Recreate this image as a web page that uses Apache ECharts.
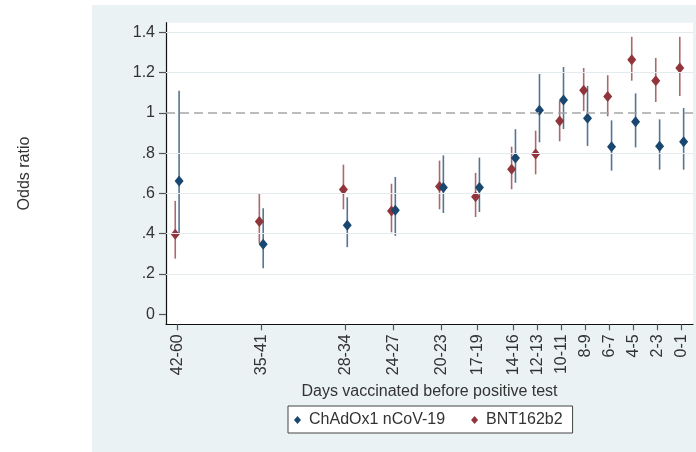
<!DOCTYPE html>
<html>
<head>
<meta charset="utf-8">
<script src="https://cdn.jsdelivr.net/npm/echarts/dist/echarts.min.js"></script>
<style>
html,body{margin:0;padding:0;background:#fff;}
#chart{width:696px;height:452px;}
</style>
</head>
<body>
<div id="chart"></div>
<script>
// ---- data ----
var categories = ['42-60','35-41','28-34','24-27','20-23','17-19','14-16','12-13','10-11','8-9','6-7','4-5','2-3','0-1'];
var dayStart   = [42, 35, 28, 24, 20, 17, 14, 12, 10, 8, 6, 4, 2, 0];

var chadOR = [0.662, 0.348, 0.442, 0.516, 0.630, 0.630, 0.776, 1.013, 1.064, 0.973, 0.832, 0.956, 0.834, 0.857];
var chadLo = [0.404, 0.228, 0.333, 0.389, 0.503, 0.508, 0.653, 0.854, 0.920, 0.836, 0.713, 0.829, 0.718, 0.718];
var chadHi = [1.110, 0.526, 0.581, 0.682, 0.789, 0.778, 0.919, 1.193, 1.228, 1.134, 0.963, 1.097, 0.968, 1.024];

var bntOR = [0.397, 0.460, 0.620, 0.513, 0.634, 0.584, 0.720, 0.796, 0.960, 1.112, 1.082, 1.264, 1.160, 1.223];
var bntLo = [0.276, 0.352, 0.521, 0.407, 0.521, 0.483, 0.621, 0.695, 0.859, 1.009, 0.983, 1.160, 1.054, 1.084];
var bntHi = [0.563, 0.597, 0.743, 0.648, 0.763, 0.702, 0.832, 0.912, 1.059, 1.223, 1.187, 1.378, 1.273, 1.378];

var yTicks      = [0, 0.2, 0.4, 0.6, 0.8, 1, 1.2, 1.4];
var yTickLabels = ['0', '.2', '.4', '.6', '.8', '1', '1.2', '1.4'];
var refLine = 1;

var seriesNames = ['ChAdOx1 nCoV-19', 'BNT162b2'];
var xTitle = 'Days vaccinated before positive test';
var yTitle = 'Odds ratio';

// ---- styling ----
var FONT = "'Liberation Sans', Arial, sans-serif";
var NAVY = '#1a476f', MAROON = '#90353b';
var TXT = '#333';
var FS = 16;
var OFF = 0.16; // small horizontal dodge between the two series (days)

function pts(or, shift) { return dayStart.map(function (d, i) { return [d + shift, or[i]]; }); }
function bars(lo, hi, shift) { return dayStart.map(function (d, i) { return [d + shift, lo[i], hi[i]]; }); }

function ciRender(color) {
  return function (params, api) {
    var p1 = api.coord([api.value(0), api.value(1)]);
    var p2 = api.coord([api.value(0), api.value(2)]);
    return {
      type: 'line',
      shape: { x1: p1[0], y1: p1[1], x2: p2[0], y2: p2[1] },
      style: { stroke: color, lineWidth: 1.6, opacity: 0.75 }
    };
  };
}

var chart = echarts.init(document.getElementById('chart'));
chart.setOption({
  animation: false,
  textStyle: { fontFamily: FONT },
  graphic: [{
    type: 'rect', z: -10, silent: true,
    shape: { x: 92, y: 5, width: 604, height: 447 },
    style: { fill: '#eaf2f3' }
  }],
  grid: {
    left: 166, right: 3, top: 22.7, bottom: 127.7,
    show: true, backgroundColor: '#ffffff', borderWidth: 0
  },
  xAxis: {
    type: 'value', inverse: true, min: -0.94, max: 42.93,
    name: xTitle, nameLocation: 'middle', nameGap: 55,
    nameTextStyle: { fontSize: FS, color: TXT, fontFamily: FONT },
    axisLine: { show: true, onZero: false, lineStyle: { color: '#111', width: 1.2 } },
    axisTick: { show: true, length: 6, customValues: dayStart, lineStyle: { color: '#555', width: 1.2 } },
    axisLabel: {
      customValues: dayStart, rotate: 90, margin: 10, fontSize: FS, color: TXT, fontFamily: FONT,
      formatter: function (v) { var i = dayStart.indexOf(v); return i >= 0 ? categories[i] : ''; }
    },
    splitLine: { show: false }
  },
  yAxis: {
    type: 'value', min: -0.05, max: 1.448,
    name: yTitle, nameLocation: 'middle', nameGap: 133,
    nameTextStyle: { fontSize: FS, color: TXT, fontFamily: FONT },
    axisLine: { show: true, onZero: false, lineStyle: { color: '#111', width: 1.2 } },
    axisTick: { show: true, length: 7, customValues: yTicks, lineStyle: { color: '#555', width: 1.2 } },
    axisLabel: {
      customValues: yTicks, margin: 11, fontSize: FS, color: TXT, fontFamily: FONT,
      formatter: function (v) {
        for (var i = 0; i < yTicks.length; i++) { if (Math.abs(yTicks[i] - v) < 1e-6) return yTickLabels[i]; }
        return '';
      }
    },
    splitLine: { show: false }
  },
  legend: {
    data: seriesNames, left: 288, top: 406,
    padding: [6, 10, 5, 6], backgroundColor: '#fff', borderColor: '#444', borderWidth: 1, borderRadius: 0,
    icon: 'diamond', itemWidth: 7, itemHeight: 8, itemGap: 26,
    textStyle: { fontSize: FS, color: TXT, fontFamily: FONT, padding: [0, 0, 0, 3] }
  },
  series: [
    {
      name: 'grid', type: 'line', data: [], silent: true,
      markLine: {
        silent: true, symbol: 'none', label: { show: false },
        lineStyle: { color: '#e3ebee', width: 1, type: 'solid' },
        data: yTicks.filter(function (v) { return v !== 0 && v !== refLine; }).map(function (v) { return { yAxis: v }; })
      }
    },
    {
      name: 'ref', type: 'line', data: [], silent: true,
      markLine: {
        silent: true, symbol: 'none', label: { show: false },
        lineStyle: { color: '#a6a6a6', width: 1.5, type: [9, 5] },
        data: [{ yAxis: refLine }]
      }
    },
    {
      name: 'BNT CI', type: 'custom', renderItem: ciRender(MAROON),
      data: bars(bntLo, bntHi, OFF), encode: { x: 0, y: [1, 2] }, z: 2
    },
    {
      name: 'ChAd CI', type: 'custom', renderItem: ciRender(NAVY),
      data: bars(chadLo, chadHi, -OFF), encode: { x: 0, y: [1, 2] }, z: 2
    },
    {
      name: seriesNames[1], type: 'scatter', symbol: 'diamond', symbolSize: [9, 11],
      itemStyle: { color: MAROON, opacity: 1 }, data: pts(bntOR, OFF), z: 3
    },
    {
      name: seriesNames[0], type: 'scatter', symbol: 'diamond', symbolSize: [9, 11],
      itemStyle: { color: NAVY, opacity: 1 }, data: pts(chadOR, -OFF), z: 3
    }
  ]
});
</script>
</body>
</html>
